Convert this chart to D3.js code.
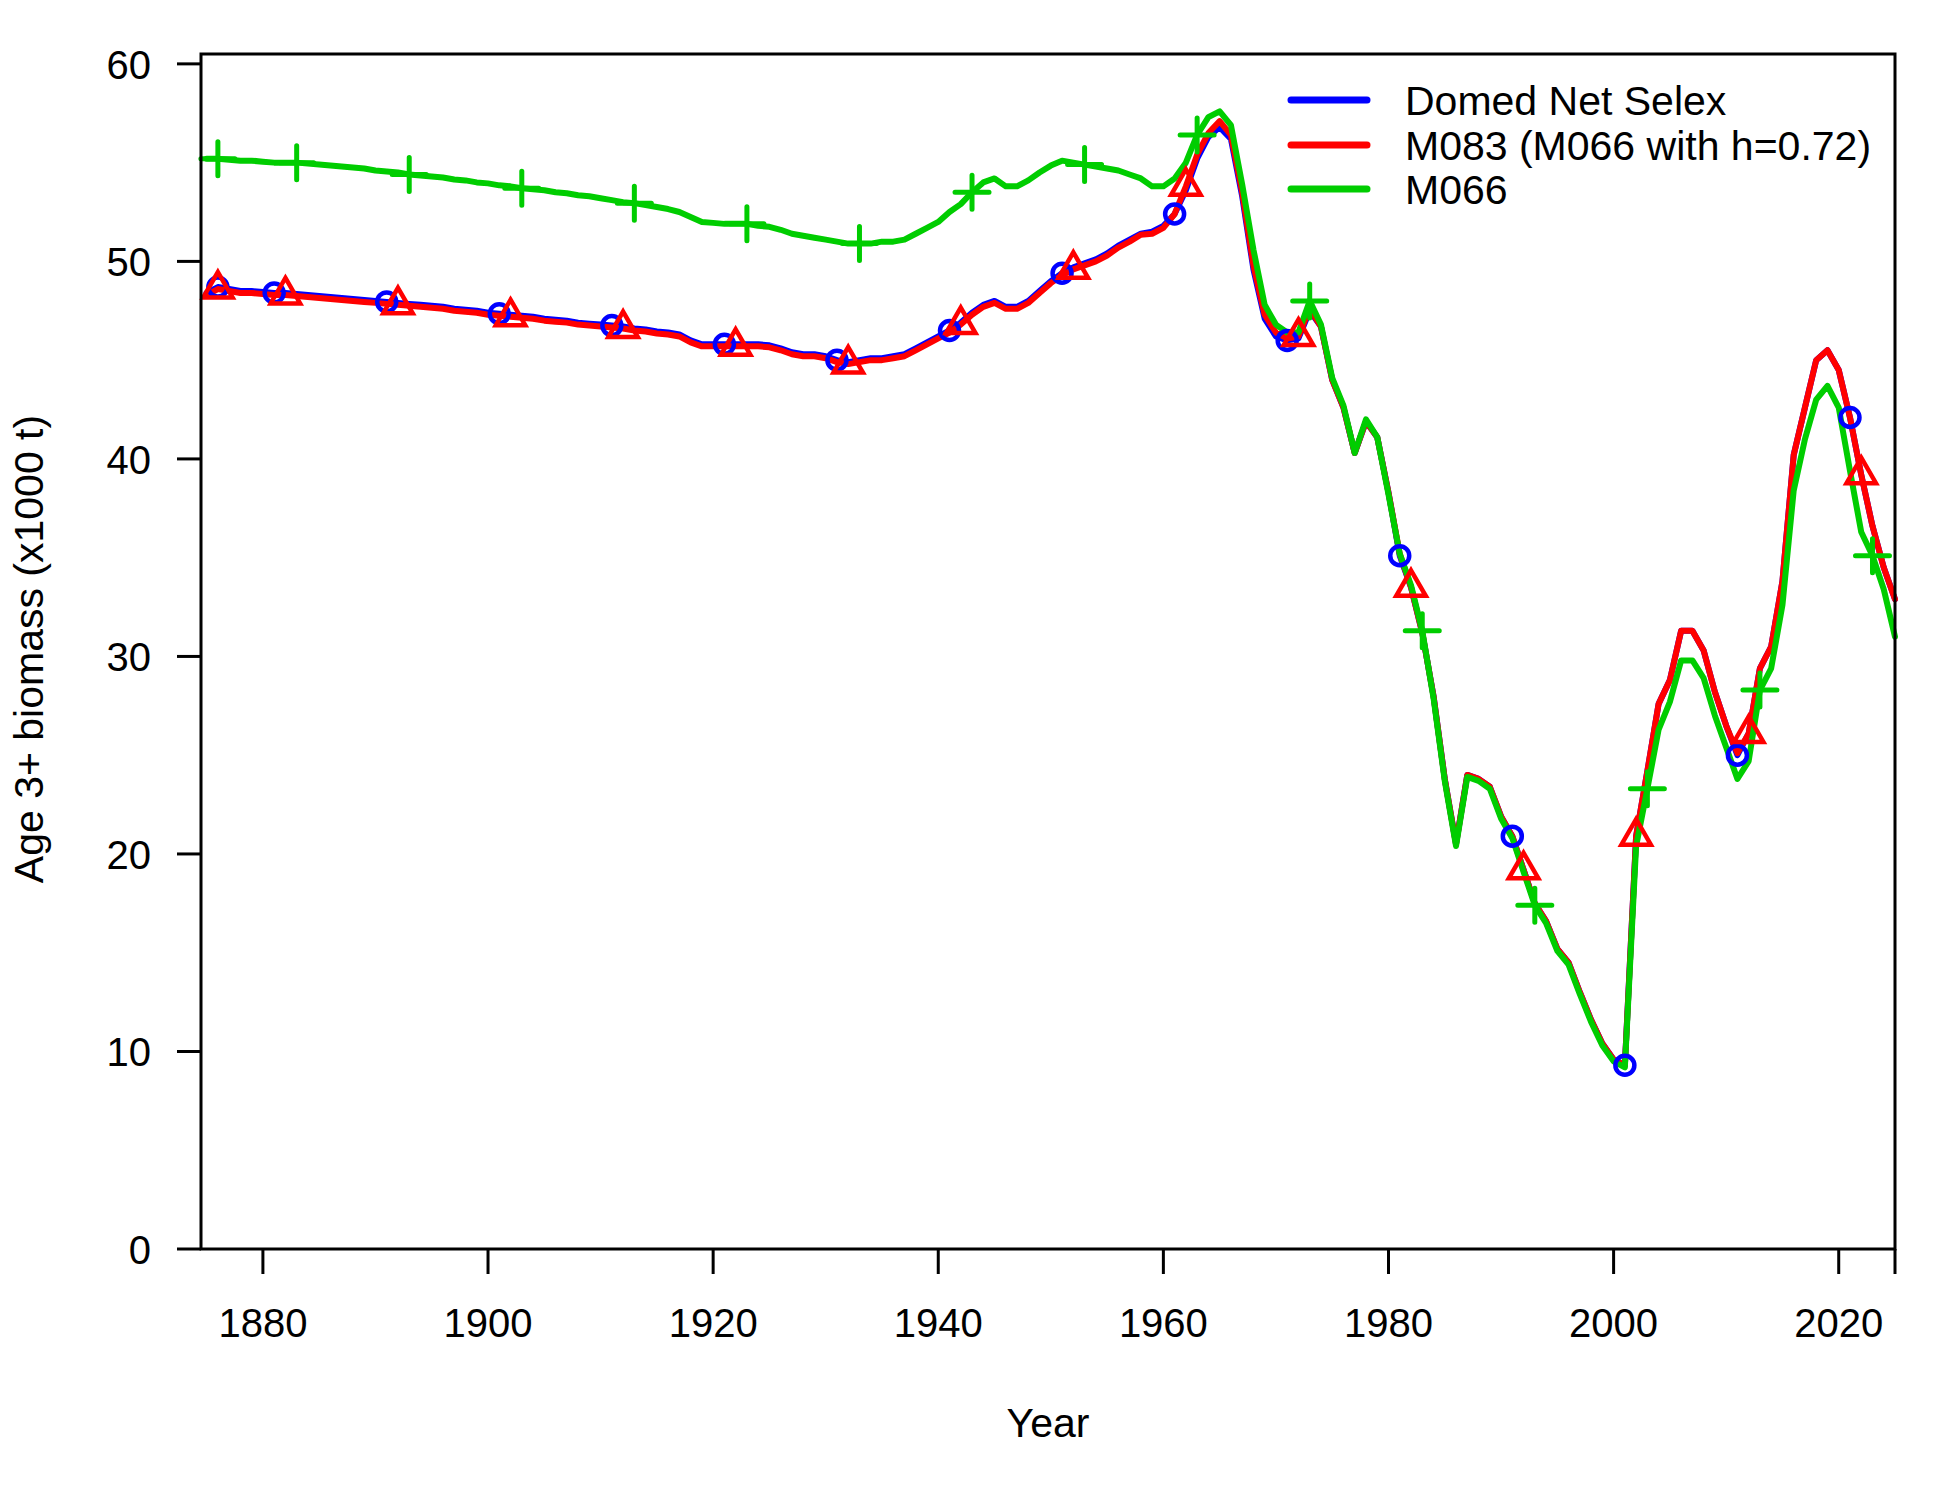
<!DOCTYPE html>
<html>
<head>
<meta charset="utf-8">
<script src="https://d3js.org/d3.v7.min.js"></script>
<style>
  body { margin: 0; background: #fff; }
  text { font-family: "Liberation Sans", Arial, sans-serif; fill: #000; }
</style>
</head>
<body>
<div id="chart"></div>
<script>
// years of the assessment series
var years = d3.range(1875, 2026);

// Age 3+ biomass (x1000 t) for each model, read year by year from 1875 to 2025
var domedNetSelex = [
  48.4, 48.7, 48.6, 48.5, 48.5, 48.45, 48.4, 48.4, 48.35, 48.3,
  48.25, 48.2, 48.15, 48.1, 48.05, 48.0, 47.95, 47.9, 47.85, 47.8,
  47.75, 47.7, 47.6, 47.55, 47.5, 47.4, 47.35, 47.3, 47.25, 47.2,
  47.1, 47.05, 47.0, 46.9, 46.85, 46.8, 46.75, 46.7, 46.6, 46.55,
  46.45, 46.4, 46.3, 46.0, 45.8, 45.8, 45.8, 45.8, 45.8, 45.8,
  45.75, 45.6, 45.4, 45.3, 45.3, 45.2, 45.0, 44.9, 45.0, 45.1,
  45.1, 45.2, 45.3, 45.6, 45.9, 46.2, 46.5, 46.9, 47.4, 47.8,
  48.0, 47.7, 47.7, 48.0, 48.5, 49.0, 49.4, 49.7, 49.9, 50.1,
  50.4, 50.8, 51.1, 51.4, 51.5, 51.8, 52.4, 53.6, 55.2, 56.3,
  56.8, 56.2, 53.3, 49.6, 47.1, 46.2, 46.0, 46.1, 47.5, 46.7,
  44.0, 42.6, 40.3, 41.9, 41.1, 38.3, 35.1, 33.5, 31.2, 28.0,
  23.8, 20.5, 24.0, 23.8, 23.4, 21.9, 20.9, 19.2, 17.5, 16.6,
  15.2, 14.5, 13.0, 11.6, 10.4, 9.6, 9.3, 20.9, 24.2, 27.6,
  28.8, 31.3, 31.3, 30.3, 28.2, 26.5, 25.0, 26.1, 29.4, 30.5,
  33.8, 40.2, 42.6, 45.0, 45.5, 44.5, 42.1, 39.2, 36.6, 34.5,
  32.9
];

var m083 = [
  48.3, 48.6, 48.5, 48.4, 48.4, 48.35, 48.3, 48.3, 48.25, 48.2,
  48.15, 48.1, 48.05, 48.0, 47.95, 47.9, 47.85, 47.8, 47.75, 47.7,
  47.65, 47.6, 47.5, 47.45, 47.4, 47.3, 47.25, 47.2, 47.15, 47.1,
  47.0, 46.95, 46.9, 46.8, 46.75, 46.7, 46.65, 46.6, 46.5, 46.45,
  46.35, 46.3, 46.2, 45.9, 45.7, 45.7, 45.7, 45.7, 45.7, 45.7,
  45.65, 45.5, 45.3, 45.2, 45.2, 45.1, 44.9, 44.8, 44.9, 45.0,
  45.0, 45.1, 45.2, 45.5, 45.8, 46.1, 46.4, 46.8, 47.3, 47.7,
  47.9, 47.6, 47.6, 47.9, 48.4, 48.9, 49.3, 49.6, 49.8, 50.0,
  50.3, 50.7, 51.0, 51.35, 51.4, 51.7, 52.4, 53.8, 55.4, 56.5,
  57.1, 56.4, 53.5, 49.8, 47.3, 46.4, 46.1, 46.2, 47.6, 46.7,
  44.0, 42.6, 40.3, 41.9, 41.1, 38.3, 35.2, 33.5, 31.2, 28.0,
  23.8, 20.5, 24.0, 23.8, 23.4, 21.9, 20.9, 19.2, 17.5, 16.6,
  15.2, 14.5, 13.0, 11.6, 10.4, 9.6, 9.3, 20.9, 24.2, 27.6,
  28.8, 31.3, 31.3, 30.3, 28.2, 26.5, 25.1, 26.1, 29.4, 30.5,
  33.8, 40.2, 42.6, 45.0, 45.5, 44.5, 42.1, 39.2, 36.6, 34.5,
  32.9
];

var m066 = [
  55.2, 55.2, 55.15, 55.1, 55.1, 55.05, 55.0, 55.0, 55.0, 54.95,
  54.9, 54.85, 54.8, 54.75, 54.7, 54.6, 54.55, 54.5, 54.4, 54.35,
  54.3, 54.25, 54.15, 54.1, 54.0, 53.95, 53.85, 53.8, 53.7, 53.65,
  53.6, 53.5, 53.45, 53.35, 53.3, 53.2, 53.1, 53.0, 52.95, 52.85,
  52.75, 52.65, 52.5, 52.25, 52.0, 51.95, 51.9, 51.9, 51.9, 51.8,
  51.75, 51.6, 51.4, 51.3, 51.2, 51.1, 51.0, 50.9, 50.9, 50.9,
  51.0, 51.0, 51.1, 51.4, 51.7, 52.0, 52.5, 52.9, 53.5, 54.0,
  54.2, 53.8, 53.8, 54.1, 54.5, 54.85, 55.1, 55.0, 54.9, 54.8,
  54.7, 54.6, 54.4, 54.2, 53.8, 53.8, 54.2, 55.0, 56.4, 57.3,
  57.6, 56.9, 53.9, 50.6, 47.8, 46.8, 46.4, 46.4, 48.0, 46.8,
  44.1, 42.7, 40.3, 42.0, 41.1, 38.2, 35.2, 33.6, 31.3, 27.9,
  23.7, 20.4, 23.9, 23.7, 23.3, 21.8, 20.8, 19.1, 17.4, 16.5,
  15.1, 14.4, 12.9, 11.5, 10.3, 9.5, 9.2, 20.4, 23.3, 26.3,
  27.7, 29.8, 29.8, 28.9, 27.0, 25.4, 23.8, 24.7, 28.3, 29.4,
  32.6, 38.4, 41.0, 43.0, 43.7, 42.6, 39.4, 36.3, 35.1, 33.4,
  31.0
];

// years that carry a point symbol for each model
var circleYears = [1876, 1881, 1891, 1901, 1911, 1921, 1931, 1941, 1951, 1961, 1971, 1981, 1991, 2001, 2011, 2021];
var triangleYears = [1876, 1882, 1892, 1902, 1912, 1922, 1932, 1942, 1952, 1962, 1972, 1982, 1992, 2002, 2012, 2022];
var plusYears = [1876, 1883, 1893, 1903, 1913, 1923, 1933, 1943, 1953, 1963, 1973, 1983, 1993, 2003, 2013, 2023];

// tick labels
var xTicks = [1880, 1900, 1920, 1940, 1960, 1980, 2000, 2020];
var yTicks = [0, 10, 20, 30, 40, 50, 60];

var legendLabels = ["Domed Net Selex", "M083 (M066 with h=0.72)", "M066"];

// plot area (plotTop, not top: window.top is read-only)
var width = 1950, height = 1500;
var plotLeft = 201, plotRight = 1895, plotTop = 54, plotBottom = 1249;

var svg = d3.select("#chart").append("svg")
    .attr("width", width)
    .attr("height", height);

var x = d3.scaleLinear().domain([1874.5, 2025]).range([plotLeft, plotRight]);
var y = d3.scaleLinear().domain([0, 60.5]).range([plotBottom, plotTop]);

// series: values, colour, marker type
var series = [
    { values: domedNetSelex, color: "#0000ff", marks: circleYears, shape: "circle" },
    { values: m083, color: "#ff0000", marks: triangleYears, shape: "triangle" },
    { values: m066, color: "#00cd00", marks: plusYears, shape: "plus" }
];

var line = d3.line()
    .x(function(d, i) { return x(years[i]); })
    .y(function(d) { return y(d); });

// lines first, then the symbols on top
series.forEach(function(s) {
    svg.append("path")
        .attr("d", line(s.values))
        .attr("fill", "none")
        .attr("stroke", s.color)
        .attr("stroke-width", 6)
        .attr("stroke-linejoin", "round")
        .attr("stroke-linecap", "round");
});

series.forEach(function(s) {
    var g = svg.append("g")
        .attr("fill", "none")
        .attr("stroke", s.color)
        .attr("stroke-width", 4.5);
    s.marks.forEach(function(yr) {
        var px = x(yr), py = y(s.values[years.indexOf(yr)]);
        if (s.shape === "circle") {
            g.append("circle").attr("cx", px).attr("cy", py).attr("r", 9.5);
        } else if (s.shape === "triangle") {
            var r = 17;
            var pts = [[px, py - r], [px + r * 0.866, py + r / 2], [px - r * 0.866, py + r / 2]];
            g.append("polygon").attr("points", pts.map(function(p) { return p.join(","); }).join(" "));
        } else {
            var a = 17;
            g.append("path")
                .attr("stroke-width", 5)
                .attr("stroke-linecap", "round")
                .attr("d", "M" + (px - a) + "," + py + "H" + (px + a) + "M" + px + "," + (py - a) + "V" + (py + a));
        }
    });
});

// box around the plot
svg.append("rect")
    .attr("x", plotLeft).attr("y", plotTop)
    .attr("width", plotRight - plotLeft).attr("height", plotBottom - plotTop)
    .attr("fill", "none")
    .attr("stroke", "#000")
    .attr("stroke-width", 3);

// x axis: ticks plus an unlabelled one at the right edge
var xAxis = svg.append("g").attr("stroke", "#000").attr("stroke-width", 3);
xTicks.concat([2025]).forEach(function(t) {
    xAxis.append("line")
        .attr("x1", x(t)).attr("x2", x(t))
        .attr("y1", plotBottom).attr("y2", plotBottom + 25);
});
svg.selectAll(".xlab").data(xTicks).enter().append("text")
    .attr("class", "xlab")
    .attr("x", function(d) { return x(d); })
    .attr("y", 1337)
    .attr("text-anchor", "middle")
    .attr("font-size", 40)
    .text(function(d) { return d; });

// y axis
var yAxis = svg.append("g").attr("stroke", "#000").attr("stroke-width", 3);
yTicks.forEach(function(t) {
    yAxis.append("line")
        .attr("x1", plotLeft - 24).attr("x2", plotLeft)
        .attr("y1", y(t)).attr("y2", y(t));
});
svg.selectAll(".ylab").data(yTicks).enter().append("text")
    .attr("class", "ylab")
    .attr("x", 151)
    .attr("y", function(d) { return y(d) + 15; })
    .attr("text-anchor", "end")
    .attr("font-size", 40)
    .text(function(d) { return d; });

// axis titles
svg.append("text")
    .attr("x", (plotLeft + plotRight) / 2)
    .attr("y", 1437)
    .attr("text-anchor", "middle")
    .attr("font-size", 41)
    .text("Year");

svg.append("text")
    .attr("transform", "translate(43,649) rotate(-90)")
    .attr("text-anchor", "middle")
    .attr("font-size", 41)
    .text("Age 3+ biomass (x1000 t)");

// legend
var legendY = [100, 145, 189];
series.forEach(function(s, i) {
    svg.append("line")
        .attr("x1", 1291).attr("x2", 1367)
        .attr("y1", legendY[i]).attr("y2", legendY[i])
        .attr("stroke", s.color)
        .attr("stroke-width", 7)
        .attr("stroke-linecap", "round");
    svg.append("text")
        .attr("x", 1405)
        .attr("y", legendY[i] + 15)
        .attr("font-size", 41)
        .text(legendLabels[i]);
});
</script>
</body>
</html>
